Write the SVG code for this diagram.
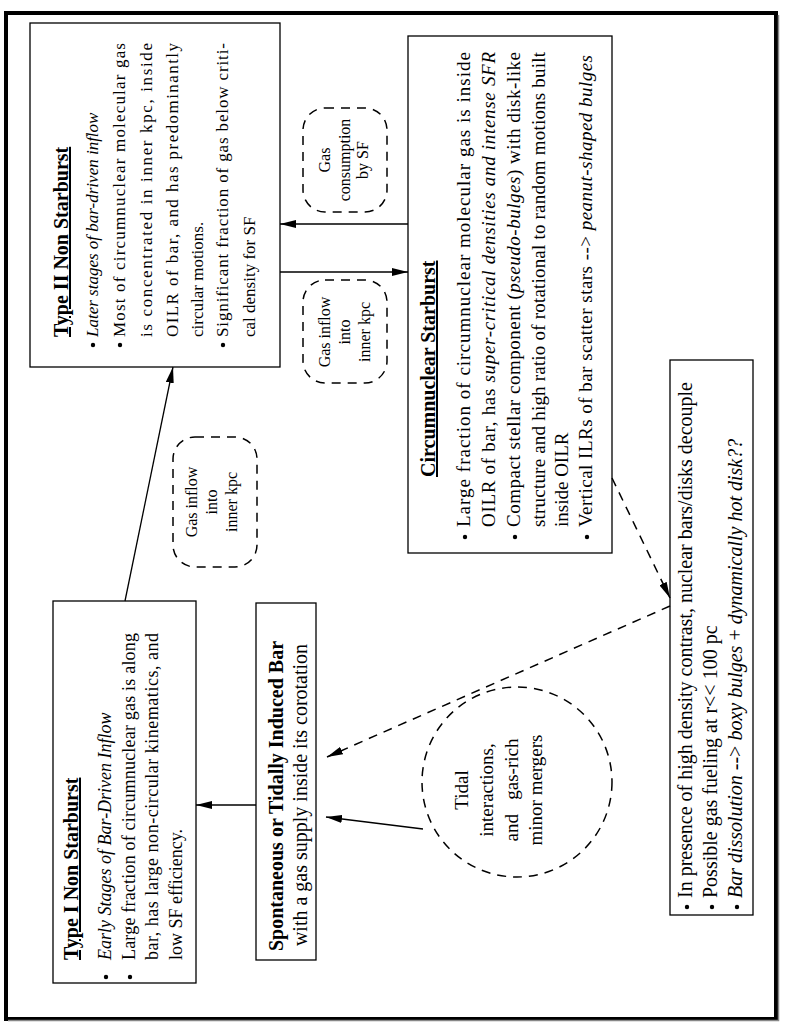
<svg xmlns="http://www.w3.org/2000/svg" width="789" height="1027" viewBox="0 0 789 1027">
<style>
text { font-family: "Liberation Serif", "Times New Roman", serif; fill: #000; }
.b { font-size: 18px; }
.b17 { font-size: 17px; }
.b19 { font-size: 19px; }
.b20 { font-size: 20px; }
.t { font-size: 20px; font-weight: bold; text-decoration: underline; }
.h { font-size: 20px; font-weight: bold; }
.i { font-style: italic; }
.s { font-size: 16px; }
.box { fill: #fff; stroke: #000; stroke-width: 1.3; }
.dash { fill: none; stroke: #000; stroke-width: 1.5; stroke-dasharray: 9 7; }
.conn { stroke: #000; stroke-width: 1.3; fill: none; }
.dconn { stroke: #000; stroke-width: 1.5; fill: none; stroke-dasharray: 9 7; }
.dot { fill: #000; }
</style>
<defs>
<marker id="ah" viewBox="0 0 16 8" refX="16" refY="4" markerWidth="16" markerHeight="8" markerUnits="userSpaceOnUse" orient="auto">
<path d="M0,0 L16,4 L0,8 Z" fill="#000"/>
</marker>
</defs>
<rect x="6" y="13" width="770" height="1006" fill="#fff" stroke="#000" stroke-width="4"/>
<path d="M778.5,15 V1020.5 H8" fill="none" stroke="#888" stroke-width="1.5"/>

<g id="type2">
<rect class="box" x="30" y="23" width="250" height="344"/>
<text class="t" transform="translate(68,337) rotate(-90)">Type II Non Starburst</text>
<circle class="dot" cx="93" cy="345" r="2.2"/>
<text class="b17 i" transform="translate(98,337) rotate(-90)">Later stages of bar-driven inflow</text>
<circle class="dot" cx="120" cy="345" r="2.2"/>
<text class="b17" transform="translate(125,337) rotate(-90)" textLength="294" lengthAdjust="spacing">Most of circumnuclear molecular gas</text>
<text class="b17" transform="translate(152,337) rotate(-90)" textLength="294" lengthAdjust="spacing">is concentrated in inner kpc, inside</text>
<text class="b17" transform="translate(178,337) rotate(-90)" textLength="294" lengthAdjust="spacing">OILR of bar, and has predominantly</text>
<text class="b17" transform="translate(203,337) rotate(-90)">circular motions.</text>
<circle class="dot" cx="223" cy="345" r="2.2"/>
<text class="b17" transform="translate(228,337) rotate(-90)" textLength="294" lengthAdjust="spacing">Significant fraction of gas below criti-</text>
<text class="b17" transform="translate(255,337) rotate(-90)">cal density for SF</text>
</g>

<g id="circumnuclear">
<rect class="box" x="408" y="36" width="204" height="517"/>
<text class="t" transform="translate(435,477) rotate(-90)">Circumnuclear Starburst</text>
<circle class="dot" cx="465" cy="537" r="2.2"/>
<text class="b19" transform="translate(470,527) rotate(-90)" textLength="475" lengthAdjust="spacing">Large fraction of circumnuclear molecular gas is inside</text>
<text class="b19" transform="translate(495,527) rotate(-90)" textLength="475" lengthAdjust="spacing">OILR of bar, has <tspan class="i">super-critical densities and intense SFR</tspan></text>
<circle class="dot" cx="515" cy="537" r="2.2"/>
<text class="b19" transform="translate(520,527) rotate(-90)" textLength="475" lengthAdjust="spacing">Compact stellar component (<tspan class="i">pseudo-bulges</tspan>) with disk-like</text>
<text class="b19" transform="translate(545,527) rotate(-90)" textLength="475" lengthAdjust="spacing">structure and high ratio of rotational to random motions built</text>
<text class="b19" transform="translate(568,527) rotate(-90)">inside OILR</text>
<circle class="dot" cx="587" cy="537" r="2.2"/>
<text class="b19" transform="translate(592,527) rotate(-90)" textLength="472" lengthAdjust="spacing">Vertical ILRs of bar scatter stars --&gt;  <tspan class="i">peanut-shaped bulges</tspan></text>
</g>

<g id="type1">
<rect class="box" x="53" y="601" width="143" height="382"/>
<text class="t" transform="translate(78,960) rotate(-90)">Type I Non Starburst</text>
<circle class="dot" cx="106" cy="977" r="2.2"/>
<text class="b i" transform="translate(111,960) rotate(-90)">Early Stages of Bar-Driven Inflow</text>
<circle class="dot" cx="130" cy="977" r="2.2"/>
<text class="b" transform="translate(135,960) rotate(-90)" textLength="327" lengthAdjust="spacing">Large fraction of circumnuclear gas is along</text>
<text class="b" transform="translate(158,960) rotate(-90)" textLength="327" lengthAdjust="spacing">bar, has large non-circular kinematics, and</text>
<text class="b" transform="translate(182,960) rotate(-90)">low SF efficiency.</text>
</g>

<g id="bar">
<rect class="box" x="256" y="603" width="60" height="357"/>
<text class="h" text-anchor="middle" transform="translate(283,796) rotate(-90)">Spontaneous or Tidally Induced Bar</text>
<text class="b20" text-anchor="middle" transform="translate(307,795) rotate(-90)">with a gas supply inside its corotation</text>
</g>

<g id="decouple">
<rect class="box" x="670" y="360" width="83" height="555"/>
<circle class="dot" cx="687" cy="907" r="2.2"/>
<text class="b20" transform="translate(692,898) rotate(-90)">In presence of high density contrast, nuclear bars/disks decouple</text>
<circle class="dot" cx="712" cy="907" r="2.2"/>
<text class="b20" transform="translate(717,898) rotate(-90)">Possible gas fueling at r&lt;&lt; 100 pc</text>
<circle class="dot" cx="737" cy="907" r="2.2"/>
<text class="b20" transform="translate(742,898) rotate(-90)"><tspan class="i">Bar dissolution</tspan> --&gt; <tspan class="i">boxy bulges</tspan> + <tspan class="i">dynamically hot disk??</tspan></text>
</g>

<g id="tidal">
<circle class="dash" cx="517" cy="782" r="95"/>
<text class="b19" text-anchor="middle" transform="translate(468,790) rotate(-90)">Tidal</text>
<text class="b19" text-anchor="middle" transform="translate(493,790) rotate(-90)">interactions,</text>
<text class="b19" text-anchor="middle" transform="translate(518,790) rotate(-90)" xml:space="preserve">and   gas-rich</text>
<text class="b19" text-anchor="middle" transform="translate(542,790) rotate(-90)">minor mergers</text>
</g>

<g id="inflow1">
<rect class="dash" x="173" y="437" width="84" height="130" rx="22"/>
<text class="s" text-anchor="middle" transform="translate(197,502) rotate(-90)">Gas inflow</text>
<text class="s" text-anchor="middle" transform="translate(217,502) rotate(-90)">into</text>
<text class="s" text-anchor="middle" transform="translate(237,502) rotate(-90)">inner kpc</text>
</g>

<g id="inflow2">
<rect class="dash" x="303" y="280" width="84" height="103" rx="22"/>
<text class="s" text-anchor="middle" transform="translate(330,332) rotate(-90)">Gas inflow</text>
<text class="s" text-anchor="middle" transform="translate(350,332) rotate(-90)">into</text>
<text class="s" text-anchor="middle" transform="translate(370,332) rotate(-90)">inner kpc</text>
</g>

<g id="consumption">
<rect class="dash" x="303" y="108" width="84" height="104" rx="22"/>
<text class="s" text-anchor="middle" transform="translate(330,160) rotate(-90)">Gas</text>
<text class="s" text-anchor="middle" transform="translate(350,160) rotate(-90)">consumption</text>
<text class="s" text-anchor="middle" transform="translate(368,160) rotate(-90)">by SF</text>
</g>

<g id="connectors">
<line class="conn" x1="125" y1="601" x2="173" y2="367" marker-end="url(#ah)"/>
<line class="conn" x1="408" y1="224" x2="280" y2="224" marker-end="url(#ah)"/>
<line class="conn" x1="280" y1="272" x2="408" y2="272" marker-end="url(#ah)"/>
<line class="conn" x1="256" y1="805" x2="196" y2="805" marker-end="url(#ah)"/>
<line class="conn" x1="423" y1="829" x2="326" y2="817" marker-end="url(#ah)"/>
<line class="dconn" x1="612" y1="478" x2="670" y2="598" marker-end="url(#ah)"/>
<line class="dconn" x1="670" y1="606" x2="327" y2="757" marker-end="url(#ah)"/>
</g>
</svg>
